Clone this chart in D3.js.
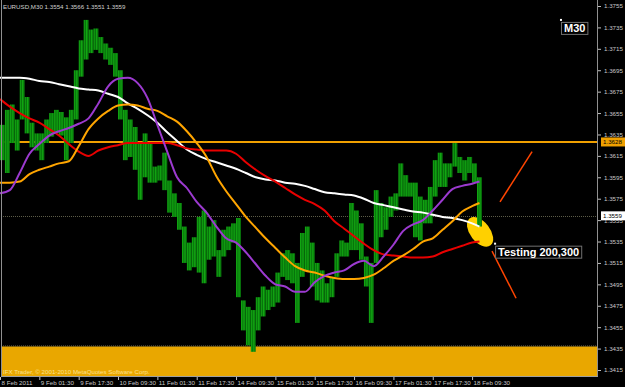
<!DOCTYPE html>
<html>
<head>
<meta charset="utf-8">
<script src="https://cdn.jsdelivr.net/npm/d3@7"></script>
<style>
  html, body { margin: 0; padding: 0; background: #000; overflow: hidden; }
  svg text { font-family: "Liberation Sans", Arial, sans-serif; }
</style>
</head>
<body>
<script>
const W = 625, H = 387;
const PLOT_R = 597, PLOT_B = 376;

const title = "EURUSD,M30  1.3554 1.3566 1.3551 1.3559";
const copyright = "IFX Trader, \u00a9 2001-2010 MetaQuotes Software Corp.";

// EURUSD M30 price range, one entry per 4 bars
const barStep = 4;
const highs = [1.3644,1.3658,1.3663,1.3649,1.3686,1.3670,1.3646,1.3636,1.3636,1.3649,
  1.3655,1.3658,1.3656,1.3651,1.3658,1.3695,1.3723,1.3742,1.3733,1.3734,
  1.3726,1.3720,1.3716,1.3711,1.3695,1.3658,1.3649,1.3642,1.3627,1.3636,
  1.3627,1.3605,1.3606,1.3618,1.3592,1.3580,1.3571,1.3549,1.3534,1.3539,
  1.3558,1.3564,1.3549,1.3555,1.3527,1.3546,1.3549,1.3552,1.3557,1.3480,
  1.3474,1.3471,1.3483,1.3493,1.3490,1.3493,1.3506,1.3524,1.3527,1.3524,
  1.3515,1.3543,1.3549,1.3534,1.3515,1.3508,1.3496,1.3502,1.3524,1.3536,
  1.3534,1.3571,1.3564,1.3552,1.3521,1.3515,1.3583,1.3571,1.3567,1.3577,
  1.3580,1.3608,1.3597,1.3590,1.3590,1.3577,1.3574,1.3586,1.3611,1.3618,
  1.3608,1.3608,1.3627,1.3614,1.3611,1.3614,1.3608,1.3595];
const lows = [1.3611,1.3599,1.3627,1.3620,1.3649,1.3636,1.3623,1.3620,1.3611,1.3627,
  1.3633,1.3636,1.3634,1.3611,1.3627,1.3649,1.3689,1.3705,1.3711,1.3714,
  1.3711,1.3705,1.3700,1.3689,1.3649,1.3611,1.3614,1.3602,1.3574,1.3595,
  1.3590,1.3590,1.3592,1.3583,1.3562,1.3558,1.3546,1.3515,1.3508,1.3511,
  1.3506,1.3496,1.3518,1.3521,1.3502,1.3521,1.3527,1.3534,1.3483,1.3452,
  1.3438,1.3432,1.3452,1.3465,1.3471,1.3474,1.3478,1.3502,1.3499,1.3496,
  1.3459,1.3502,1.3508,1.3493,1.3480,1.3478,1.3478,1.3483,1.3502,1.3521,
  1.3521,1.3527,1.3527,1.3518,1.3493,1.3459,1.3515,1.3539,1.3546,1.3558,
  1.3564,1.3577,1.3577,1.3577,1.3539,1.3536,1.3552,1.3552,1.3577,1.3586,
  1.3586,1.3595,1.3605,1.3599,1.3592,1.3599,1.3590,1.3549];

// moving averages, read every 8 bars plus the last bar
const maBars = d3.range(0, 385, 8).concat([390]);
const maWhite = [1.3688,1.3688,1.3688,1.3687,1.3685,1.3684,1.3682,1.3680,1.3678,1.3677,
  1.3676,1.3673,1.3670,1.3664,1.3659,1.3653,1.3646,1.3637,1.3629,1.3621,
  1.3616,1.3612,1.3609,1.3606,1.3603,1.3599,1.3595,1.3593,1.3592,1.3590,
  1.3589,1.3587,1.3584,1.3581,1.3580,1.3579,1.3578,1.3575,1.3571,1.3569,
  1.3567,1.3565,1.3563,1.3562,1.3560,1.3558,1.3557,1.3555,1.3552,1.3549];
const maRed = [1.3668,1.3661,1.3655,1.3650,1.3646,1.3640,1.3634,1.3626,1.3619,1.3615,
  1.3620,1.3623,1.3625,1.3627,1.3627,1.3627,1.3627,1.3627,1.3625,1.3622,
  1.3621,1.3620,1.3620,1.3620,1.3617,1.3609,1.3602,1.3596,1.3591,1.3585,
  1.3579,1.3574,1.3570,1.3564,1.3554,1.3547,1.3540,1.3533,1.3527,1.3523,
  1.3522,1.3521,1.3520,1.3520,1.3521,1.3525,1.3528,1.3531,1.3534,1.3535];
const maOrange = [1.3590,1.3590,1.3591,1.3598,1.3602,1.3605,1.3608,1.3610,1.3624,1.3640,
  1.3650,1.3657,1.3662,1.3663,1.3662,1.3659,1.3657,1.3652,1.3647,1.3638,
  1.3627,1.3614,1.3596,1.3582,1.3570,1.3558,1.3548,1.3538,1.3529,1.3520,
  1.3512,1.3508,1.3506,1.3503,1.3501,1.3500,1.3500,1.3501,1.3504,1.3510,
  1.3517,1.3522,1.3528,1.3535,1.3538,1.3546,1.3554,1.3563,1.3568,1.3571];
const maPurple = [1.3580,1.3583,1.3599,1.3617,1.3626,1.3634,1.3638,1.3641,1.3645,1.3650,
  1.3664,1.3680,1.3687,1.3688,1.3683,1.3669,1.3644,1.3619,1.3595,1.3585,
  1.3572,1.3562,1.3549,1.3538,1.3534,1.3525,1.3514,1.3503,1.3495,1.3493,
  1.3488,1.3488,1.3497,1.3503,1.3506,1.3508,1.3514,1.3517,1.3512,1.3521,
  1.3532,1.3545,1.3551,1.3555,1.3564,1.3574,1.3584,1.3587,1.3589,1.3591];

const yTicks = [1.3755,1.3735,1.3715,1.3695,1.3675,1.3655,1.3635,1.3615,1.3595,
  1.3575,1.3555,1.3535,1.3515,1.3495,1.3475,1.3455,1.3435,1.3415];
const xTickBars = [0,32,64,96,128,160,192,224,256,288,320,352,384];
const xLabels = ["8 Feb 2011","9 Feb 01:30","9 Feb 17:30","10 Feb 09:30","11 Feb 01:30",
  "11 Feb 17:30","14 Feb 09:30","15 Feb 01:30","15 Feb 17:30","16 Feb 09:30",
  "17 Feb 01:30","17 Feb 17:30","18 Feb 09:30"];

const resistance = 1.3628;
const bidPrice = 1.3559;
const zoneTop = 1.3437;

// chart objects
const trendLines = [
  {b1: 406.7, p1: 1.3572, b2: 432.8, p2: 1.3619},
  {b1: 400.2, p1: 1.3526, b2: 419.8, p2: 1.3482}
];
const marker = {bar: 390.5, price: 1.3544};
const notes = [
  {text: "M30", bar: 456.3, price: 1.3742},
  {text: "Testing 200,300", bar: 402.7, price: 1.3533}
];

const x = d3.scaleLinear().domain([0, 485.6]).range([0, PLOT_R]);
const y = d3.scaleLinear().domain([1.3415, 1.3755]).range([370, 6]);

const svg = d3.select('body').append('svg')
    .attr('width', W).attr('height', H)
    .style('display', 'block')
    .style('background', '#000');

// bar texture: one stripe per M30 bar
const barW = x(1) - x(0);
const pat = svg.append('defs').append('pattern')
    .attr('id', 'bars')
    .attr('patternUnits', 'userSpaceOnUse')
    .attr('width', barW * 2).attr('height', 10);
pat.append('rect').attr('width', barW * 2).attr('height', 10).attr('fill', '#06700a');
pat.append('rect').attr('width', barW).attr('height', 10).attr('fill', '#12a812');

const plot = svg.append('g');

// orange zone at the bottom
plot.append('rect')
    .attr('x', 1).attr('y', y(zoneTop))
    .attr('width', PLOT_R - 1).attr('height', PLOT_B - y(zoneTop))
    .attr('fill', '#e9a700');
plot.append('line')
    .attr('x1', 1).attr('x2', PLOT_R)
    .attr('y1', y(zoneTop) - 0.5).attr('y2', y(zoneTop) - 0.5)
    .attr('stroke', '#6e6a50').attr('stroke-dasharray', '1,1');

plot.append('text')
    .attr('x', 3).attr('y', 374)
    .attr('font-size', 6.2)
    .attr('fill', '#fbe08c')
    .text(copyright);

// resistance + bid lines
plot.append('line')
    .attr('x1', 1).attr('x2', PLOT_R)
    .attr('y1', y(resistance)).attr('y2', y(resistance))
    .attr('stroke', '#f0a000').attr('stroke-width', 2);
plot.append('line')
    .attr('x1', 1).attr('x2', PLOT_R)
    .attr('y1', Math.round(y(bidPrice)) + 0.5).attr('y2', Math.round(y(bidPrice)) + 0.5)
    .attr('stroke', '#5c5c48').attr('stroke-dasharray', '1,1');

// marker ellipse
plot.append('ellipse')
    .attr('cx', 0).attr('cy', 0).attr('rx', 17).attr('ry', 10)
    .attr('transform', `translate(${x(marker.bar)},${y(marker.price)}) rotate(52)`)
    .attr('fill', '#ffd000');

// price bars
const bars = highs.map((h, i) => ({bar: i * barStep, high: h, low: lows[i]}));
plot.selectAll('rect.bar')
    .data(bars)
    .enter()
        .append('rect')
            .attr('class', 'bar')
            .attr('x', d => x(d.bar))
            .attr('y', d => y(d.high))
            .attr('width', x(barStep) - x(0))
            .attr('height', d => y(d.low) - y(d.high))
            .attr('fill', 'url(#bars)');

// moving averages
const maLine = d3.line()
    .x((d, i) => x(maBars[i]))
    .y(d => y(d))
    .curve(d3.curveMonotoneX);

[[maWhite, '#ffffff', 2], [maRed, '#e80000', 2],
 [maOrange, '#ffa500', 2], [maPurple, '#9c3ad0', 2]].forEach(([data, color, w]) => {
    plot.append('path')
        .datum(data)
        .attr('d', maLine)
        .attr('fill', 'none')
        .attr('stroke', color)
        .attr('stroke-width', w);
});

// trend lines
plot.selectAll('line.trend')
    .data(trendLines)
    .enter()
        .append('line')
            .attr('class', 'trend')
            .attr('x1', d => x(d.b1)).attr('y1', d => y(d.p1))
            .attr('x2', d => x(d.b2)).attr('y2', d => y(d.p2))
            .attr('stroke', '#ff4500').attr('stroke-width', 1.5);

// text labels with box
notes.forEach(n => {
    const px = x(n.bar), py = y(n.price);
    const g = svg.append('g');
    const t = g.append('text')
        .attr('x', px + 3).attr('y', py + 12)
        .attr('font-size', 11).attr('font-weight', 'bold')
        .attr('fill', '#ffffff')
        .text(n.text);
    const bb = t.node().getBBox();
    g.insert('rect', 'text')
        .attr('x', bb.x - 2.5).attr('y', bb.y + 0.5)
        .attr('width', bb.width + 5).attr('height', bb.height)
        .attr('fill', '#000').attr('stroke', '#707070');
    g.append('rect')
        .attr('x', px - 1).attr('y', py - 1).attr('width', 2).attr('height', 2)
        .attr('fill', '#ffffff');
});

// frame
svg.append('line').attr('x1', 1.5).attr('x2', 1.5).attr('y1', 0).attr('y2', PLOT_B)
    .attr('stroke', '#909090');
svg.append('line').attr('x1', PLOT_R + 0.5).attr('x2', PLOT_R + 0.5).attr('y1', 0).attr('y2', PLOT_B + 1)
    .attr('stroke', '#909090');
svg.append('line').attr('x1', 1).attr('x2', PLOT_R + 1).attr('y1', PLOT_B + 0.5).attr('y2', PLOT_B + 0.5)
    .attr('stroke', '#a0a0a0');

// axes
const yAxis = svg.append('g')
    .attr('transform', `translate(${PLOT_R + 1},0)`)
    .call(d3.axisRight(y).tickValues(yTicks).tickSize(3).tickPadding(3)
        .tickFormat(d3.format('.4f')));
const xAxis = svg.append('g')
    .attr('transform', `translate(0,${PLOT_B + 1})`)
    .call(d3.axisBottom(x).tickValues(xTickBars).tickSize(3).tickPadding(1)
        .tickFormat((d, i) => xLabels[i]));
[yAxis, xAxis].forEach(a => {
    a.select('.domain').remove();
    a.selectAll('line').attr('stroke', '#c0c0c0');
    a.selectAll('text').attr('fill', '#c8c8c8')
        .attr('font-size', 6.2)
        .style('font-family', '"Liberation Sans", Arial, sans-serif');
});
xAxis.selectAll('text').attr('text-anchor', 'start').attr('dx', 1);

// price labels on the axis (the bid label covers the 1.3555 tick, as in MT4)
[[resistance, '#f0a000'], [bidPrice, '#ffffff']].forEach(([p, fill]) => {
    const g = svg.append('g').attr('transform', `translate(${PLOT_R + 4},${y(p)})`);
    g.append('rect').attr('x', 0).attr('y', -4.5).attr('width', 24).attr('height', 9)
        .attr('fill', fill);
    g.append('text').attr('x', 2).attr('y', 2.2)
        .attr('font-size', 6.2).attr('fill', '#000')
        .text(d3.format('.4f')(p));
});

svg.append('text')
    .attr('x', 3).attr('y', 9)
    .attr('font-size', 6.2)
    .attr('fill', '#d0d0d0')
    .text(title);
</script>
</body>
</html>
